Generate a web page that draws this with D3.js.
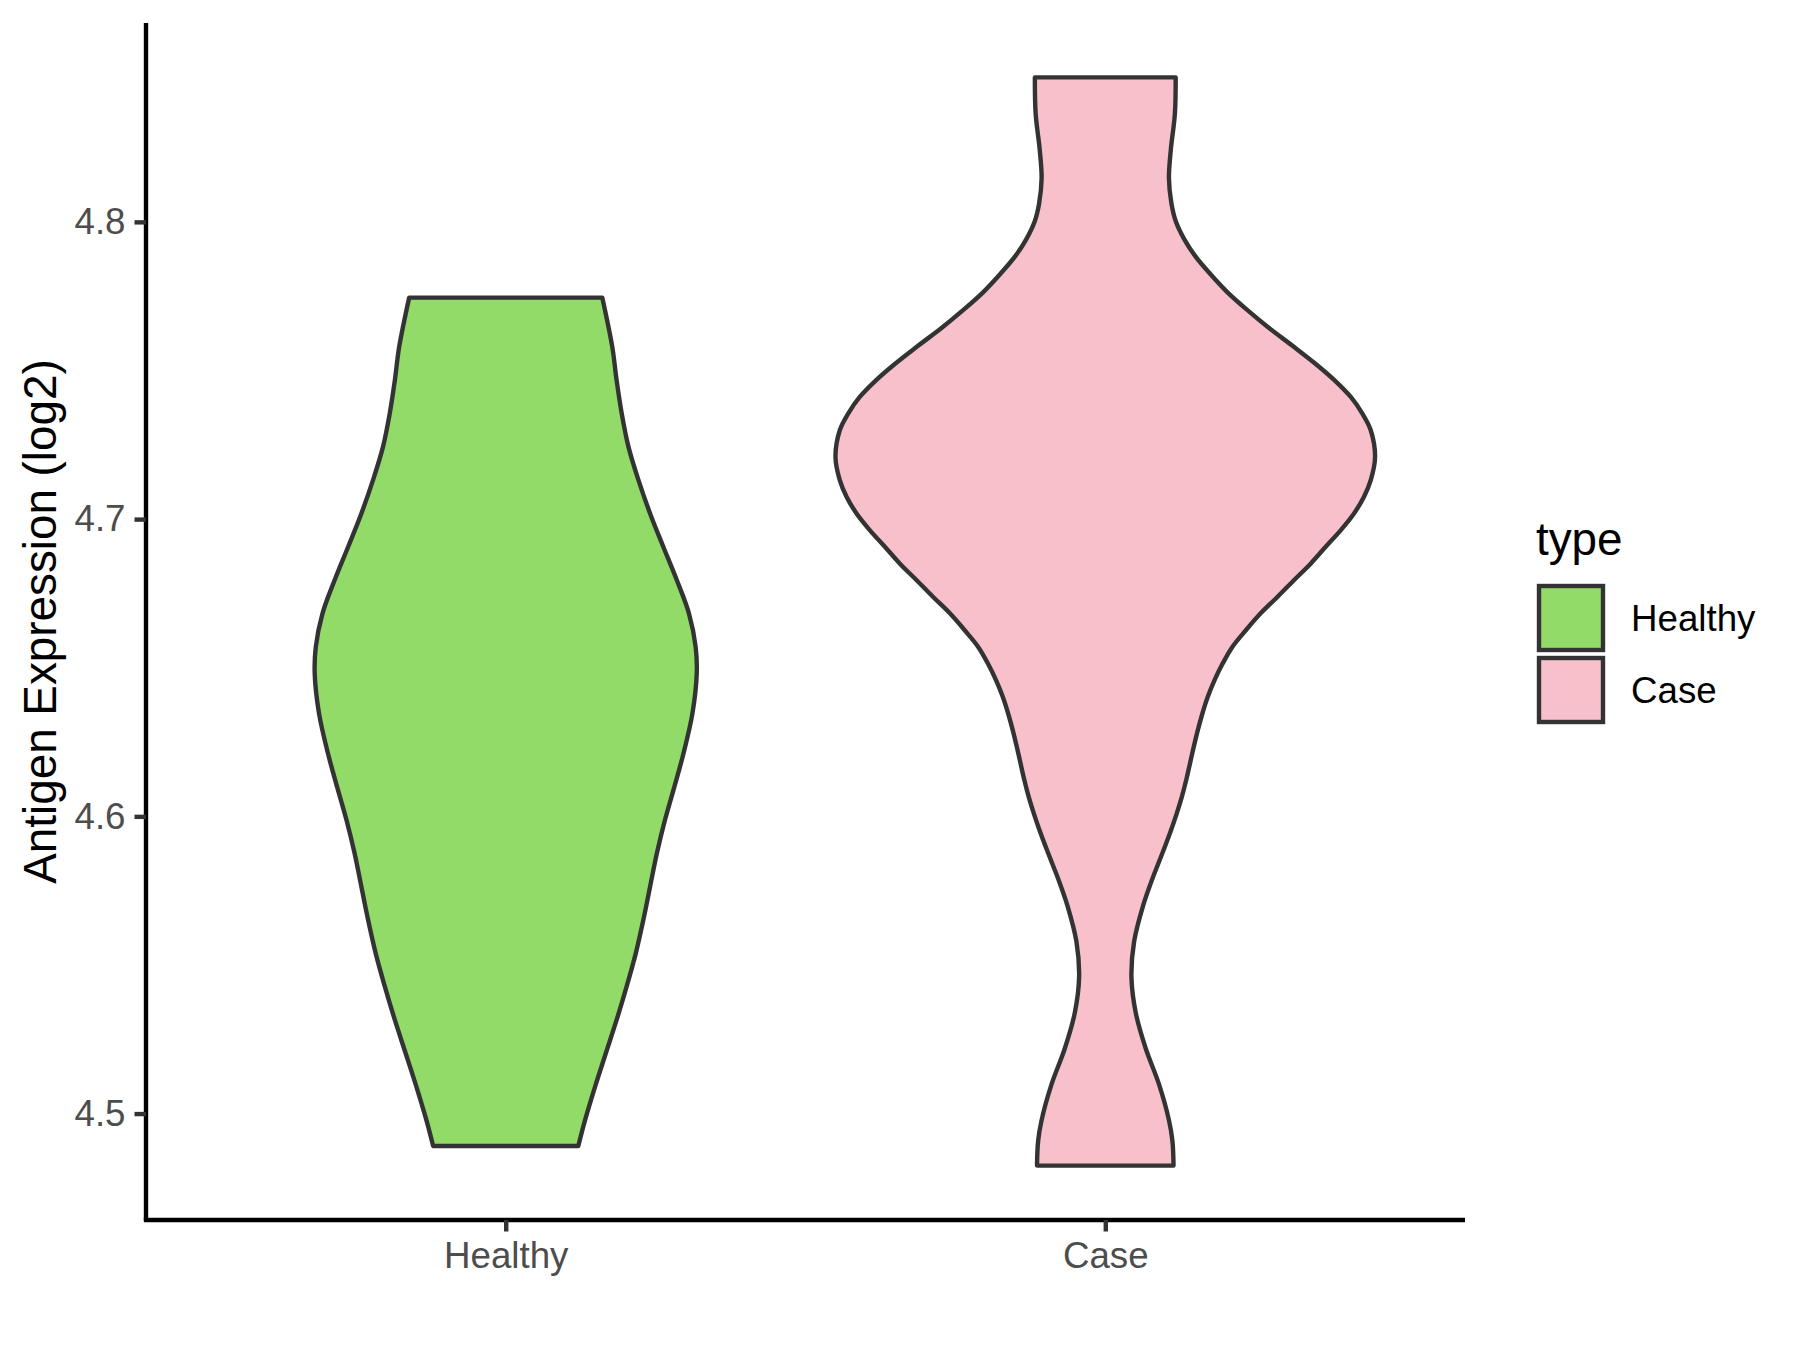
<!DOCTYPE html>
<html>
<head>
<meta charset="utf-8">
<script src="https://cdn.jsdelivr.net/npm/d3@7"></script>
<style>
  html, body { margin: 0; padding: 0; background: #ffffff; }
  svg { display: block; font-family: "Liberation Sans", Arial, sans-serif; }
</style>
</head>
<body>
<svg id="chart" width="1800" height="1350"></svg>
<script>
// ---- data ----
const categories = ["Healthy", "Case"];
const yTicks = [4.5, 4.6, 4.7, 4.8];

// violin outlines: expression value and scaled density (1 = widest violin)
const healthyY = [4.4891, 4.4978, 4.5090, 4.5203, 4.5315, 4.5427, 4.5539, 4.5651, 4.5763, 4.5875,
                  4.5987, 4.6099, 4.6212, 4.6346, 4.6481, 4.6570, 4.6683, 4.6795, 4.6907, 4.7019,
                  4.7131, 4.7243, 4.7355, 4.7467, 4.7579, 4.7745];
const healthyDensity = [0.269, 0.294, 0.331, 0.371, 0.411, 0.448, 0.482, 0.510, 0.535, 0.560,
                        0.590, 0.625, 0.659, 0.692, 0.708, 0.704, 0.679, 0.634, 0.584, 0.535,
                        0.492, 0.455, 0.430, 0.411, 0.395, 0.358];

const caseY = [4.4825, 4.4907, 4.4978, 4.5099, 4.5219, 4.5339, 4.5459, 4.5579, 4.5699, 4.5791,
               4.5842, 4.5898, 4.5954, 4.6010, 4.6066, 4.6122, 4.6178, 4.6234, 4.6290, 4.6346,
               4.6402, 4.6458, 4.6514, 4.6570, 4.6626, 4.6683, 4.6738, 4.6795, 4.6851, 4.6907,
               4.6963, 4.7019, 4.7075, 4.7131, 4.7209, 4.7299, 4.7355, 4.7411, 4.7467, 4.7522,
               4.7583, 4.7643, 4.7703, 4.7763, 4.7823, 4.7883, 4.7943, 4.8003, 4.8063, 4.8147,
               4.8243, 4.8363, 4.8486];
const caseDensity = [0.253, 0.249, 0.236, 0.199, 0.150, 0.113, 0.097, 0.107, 0.140, 0.175,
                     0.197, 0.221, 0.244, 0.265, 0.284, 0.300, 0.314, 0.328, 0.343, 0.360,
                     0.380, 0.405, 0.435, 0.471, 0.521, 0.576, 0.638, 0.700, 0.762, 0.817,
                     0.873, 0.922, 0.959, 0.984, 1.000, 0.984, 0.953, 0.910, 0.850, 0.780,
                     0.694, 0.607, 0.527, 0.453, 0.391, 0.335, 0.292, 0.261, 0.245, 0.236,
                     0.243, 0.258, 0.261];

const fills = {"Healthy": "#93DB69", "Case": "#F7C0CB"};

// ---- layout ----
const svg = d3.select("#chart");
const pLeft = 146, pRight = 1465, pTop = 23, pBottom = 1220;

const allY = healthyY.concat(caseY);
const yMin = d3.min(allY), yMax = d3.max(allY);
const pad = (yMax - yMin) * 0.05;
const y = d3.scaleLinear().domain([yMin - pad, yMax + pad]).range([pBottom, pTop]);
const x = d3.scalePoint().domain(categories).range([pLeft, pRight]).padding(0.6);
const w = d3.scaleLinear().domain([0, 1]).range([0, 0.45 * x.step()]);

const violins = [
  {cat: "Healthy", ys: healthyY, ds: healthyDensity},
  {cat: "Case", ys: caseY, ds: caseDensity}
];

violins.forEach(v => {
  const pts = v.ys.map((yy, i) => ({y: yy, d: v.ds[i]}));
  const cx = x(v.cat);
  const area = d3.area()
    .y(p => y(p.y))
    .x0(p => cx - w(p.d))
    .x1(p => cx + w(p.d))
    .curve(d3.curveCatmullRom.alpha(0.5));
  svg.append("path")
    .datum(pts)
    .attr("d", area)
    .attr("fill", fills[v.cat])
    .attr("stroke", "#333333")
    .attr("stroke-width", 4.4)
    .attr("stroke-linejoin", "round");
});

// ---- axes ----
const yAxis = d3.axisLeft(y).tickValues(yTicks).tickFormat(d3.format(".1f")).tickSizeOuter(0).tickSizeInner(11.5).tickPadding(9);
const gy = svg.append("g").attr("transform", `translate(${pLeft},0)`).call(yAxis);
gy.select(".domain").attr("stroke", "#000").attr("stroke-width", 4.4).attr("d", `M0,${pTop}V${pBottom}`);
gy.selectAll(".tick line").attr("stroke", "#333333").attr("stroke-width", 4.4);
gy.selectAll(".tick text").attr("fill", "#4D4D4D").attr("font-size", "36.7px")
  .attr("font-family", "Liberation Sans, Arial, sans-serif");

const xAxis = d3.axisBottom(x).tickSizeOuter(0).tickSizeInner(11.5).tickPadding(9);
const gx = svg.append("g").attr("transform", `translate(0,${pBottom})`).call(xAxis);
gx.select(".domain").attr("stroke", "#000").attr("stroke-width", 4.4).attr("d", `M${pLeft - 2.2},0H${pRight}`);
gx.selectAll(".tick line").attr("stroke", "#333333").attr("stroke-width", 4.4);
gx.selectAll(".tick text").attr("fill", "#4D4D4D").attr("font-size", "36.7px")
  .attr("font-family", "Liberation Sans, Arial, sans-serif")
  .attr("dy", null).attr("y", 48);

// y title
svg.append("text")
  .attr("transform", `translate(56,${(pTop + pBottom) / 2}) rotate(-90)`)
  .attr("text-anchor", "middle")
  .attr("font-size", "45.8px")
  .attr("fill", "#000")
  .text("Antigen Expression (log2)");

// ---- legend ----
const lg = svg.append("g");
lg.append("text").attr("x", 1536).attr("y", 555).attr("font-size", "45.8px").attr("fill", "#000").text("type");
categories.forEach((c, i) => {
  const ky = 586 + i * 72;
  lg.append("rect").attr("x", 1539).attr("y", ky).attr("width", 64).attr("height", 64)
    .attr("fill", fills[c]).attr("stroke", "#333333").attr("stroke-width", 4.4);
  lg.append("text").attr("x", 1631).attr("y", ky + 32).attr("dy", "0.35em")
    .attr("font-size", "36.7px").attr("fill", "#000").text(c);
});
</script>
</body>
</html>
